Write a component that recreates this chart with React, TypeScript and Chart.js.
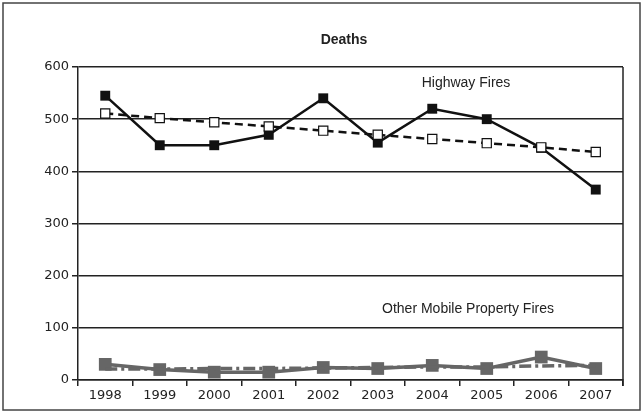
import React, { useEffect, useRef } from "react";
import { Chart, registerables } from "chart.js";

Chart.register(...registerables);

const years = ["1998", "1999", "2000", "2001", "2002", "2003", "2004", "2005", "2006", "2007"];
const highwayDeaths = [545, 450, 450, 470, 540, 455, 520, 500, 445, 365];
const highwayTrend = [511, 502, 494, 486, 478, 470, 462, 454, 446, 437];
const otherDeaths = [30, 20, 15, 15, 24, 22, 28, 22, 44, 22];
const otherTrend = [21, 21, 22, 22, 23, 24, 25, 25, 27, 28];
const yTicks = [0, 100, 200, 300, 400, 500, 600];

const chartTitle = "Deaths";
const highwayLabel = "Highway Fires";
const otherLabel = "Other Mobile Property Fires";

const overlayPlugin = {
  id: "overlay",
  afterDraw(chart: any) {
    const ctx = chart.ctx;
    const ca = chart.chartArea;
    const y = chart.scales.y;
    ctx.save();
    // outer frame
    ctx.strokeStyle = "#444";
    ctx.lineWidth = 1.5;
    ctx.strokeRect(3, 3, 637, 407);
    // right border of plot
    ctx.strokeStyle = "#222";
    ctx.lineWidth = 1.5;
    ctx.beginPath();
    ctx.moveTo(ca.right, ca.top);
    ctx.lineTo(ca.right, ca.bottom + 6);
    ctx.stroke();
    // title
    ctx.fillStyle = "#222";
    ctx.textAlign = "center";
    ctx.textBaseline = "middle";
    ctx.font = "bold 14px 'Liberation Sans', Arial, sans-serif";
    ctx.fillText(chartTitle, 344, 40);
    ctx.font = "14px 'Liberation Sans', Arial, sans-serif";
    ctx.fillText(highwayLabel, 466, y.getPixelForValue(569));
    ctx.fillText(otherLabel, 468, y.getPixelForValue(136));
    ctx.restore();
  },
};

export default function App() {
  const ref = useRef<HTMLCanvasElement>(null);
  useEffect(() => {
    if (!ref.current) return;
    const tickFont = { family: "'DejaVu Sans', sans-serif", size: 13 };
    const chart = new Chart(ref.current, {
      type: "line",
      data: {
        labels: years,
        datasets: [
          {
            label: "Other trend",
            data: otherTrend,
            borderColor: "#666",
            backgroundColor: "#666",
            borderWidth: 3.5,
            borderDash: [12, 4, 3, 4],
            pointStyle: "rect",
            pointRadius: 0,
          },
          {
            label: "Other",
            data: otherDeaths,
            borderColor: "#666",
            backgroundColor: "#666",
            borderWidth: 3.5,
            pointStyle: "rect",
            pointRadius: 9,
            pointBorderWidth: 0,
          },
          {
            label: "Highway trend",
            data: highwayTrend,
            borderColor: "#111",
            backgroundColor: "#fff",
            borderWidth: 2.5,
            borderDash: [8, 5],
            pointStyle: "rect",
            pointRadius: 6.5,
            pointBorderWidth: 1.2,
            pointBorderColor: "#111",
            pointBackgroundColor: "#fff",
          },
          {
            label: "Highway",
            data: highwayDeaths,
            borderColor: "#111",
            backgroundColor: "#111",
            borderWidth: 2.5,
            pointStyle: "rect",
            pointRadius: 7,
            pointBorderWidth: 0,
          },
        ],
      },
      options: {
        responsive: false,
        animation: false,
        layout: { padding: { left: 0, right: 21, top: 67, bottom: 0 } },
        plugins: {
          legend: { display: false },
          title: { display: false },
          tooltip: { enabled: false },
        },
        scales: {
          x: {
            offset: true,
            grid: {
              offset: true,
              drawOnChartArea: false,
              drawTicks: true,
              tickLength: 6,
              color: "#222",
              lineWidth: 1.5,
            },
            border: { color: "#222", width: 1.5 },
            ticks: {
              color: "#222",
              font: tickFont,
              padding: 2,
              maxRotation: 0,
              autoSkip: false,
            },
            afterFit(scale: any) {
              scale.height = 34;
            },
          },
          y: {
            min: 0,
            max: 600,
            afterBuildTicks(scale: any) {
              scale.ticks = yTicks.map((v) => ({ value: v }));
            },
            grid: {
              color: "#222",
              lineWidth: 1.5,
              tickLength: 6,
            },
            border: { color: "#222", width: 1.5 },
            ticks: {
              color: "#222",
              font: tickFont,
              padding: 3,
            },
            afterFit(scale: any) {
              scale.width = 78;
            },
          },
        },
      },
      plugins: [overlayPlugin],
    } as any);
    return () => chart.destroy();
  }, []);
  return (
    <div style={{ position: "fixed", left: 0, top: 0, width: 644, height: 414, background: "#fff" }}>
      <canvas ref={ref} width={644} height={414} style={{ width: 644, height: 414, display: "block" }} />
    </div>
  );
}
